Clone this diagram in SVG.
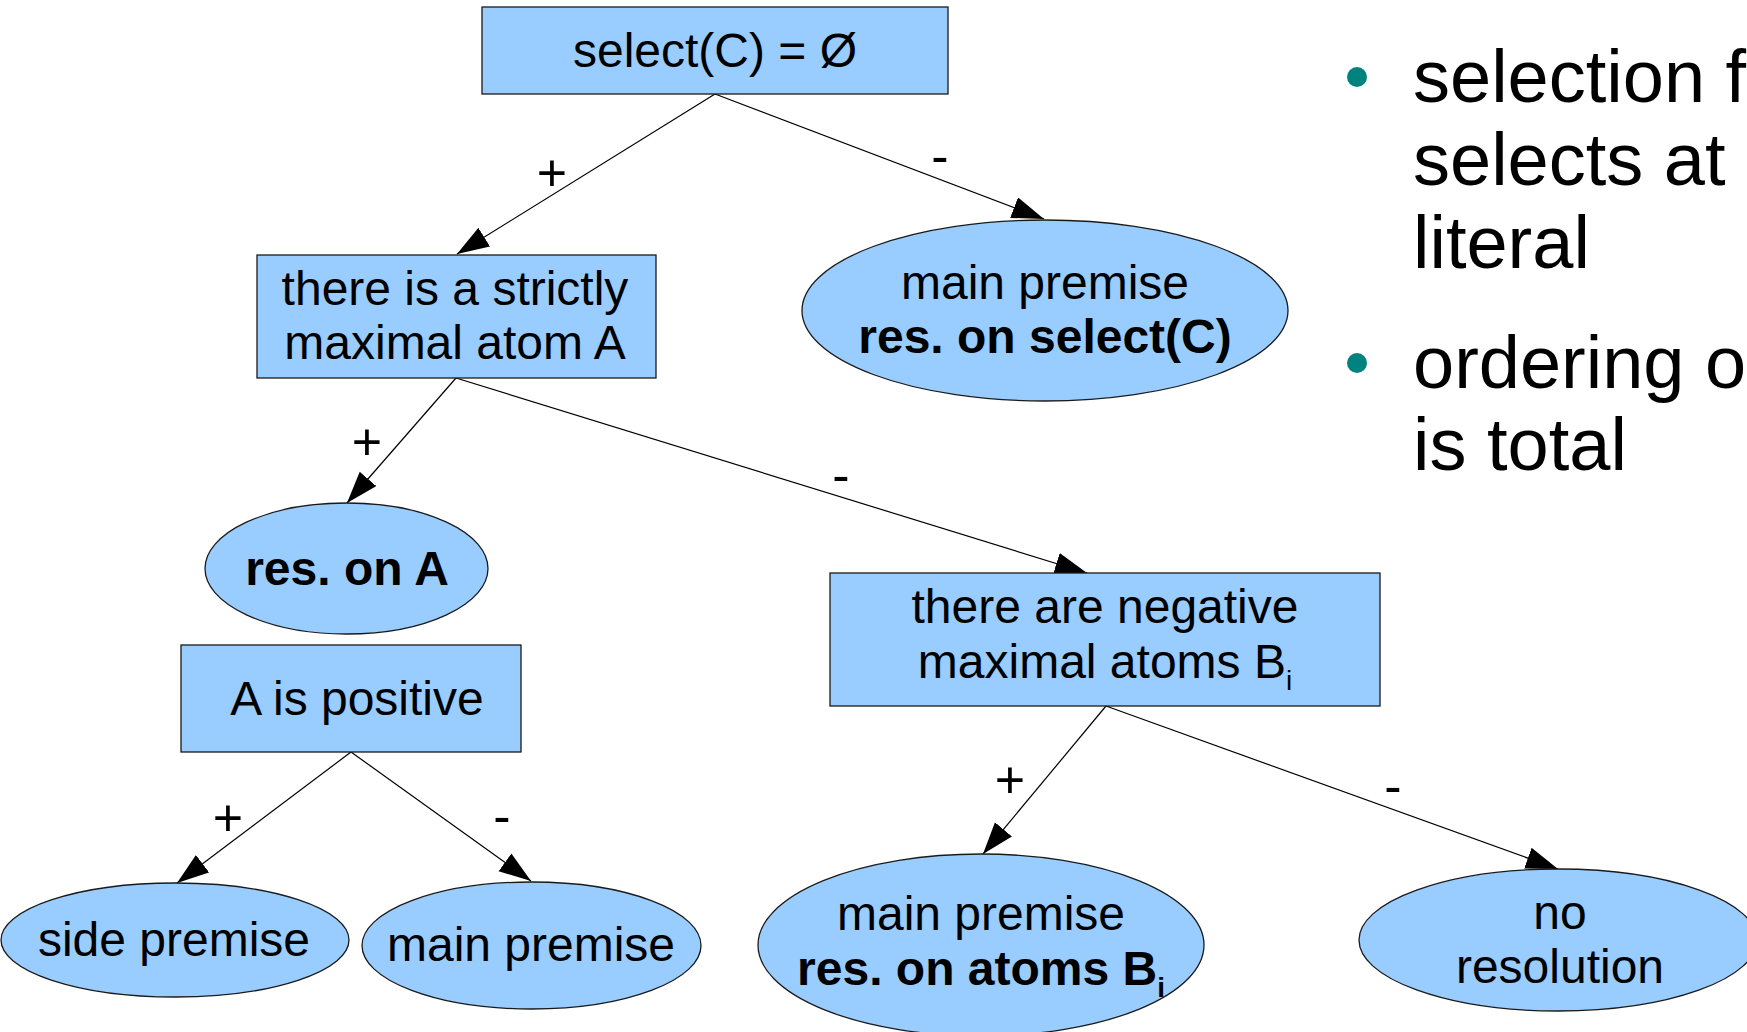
<svg xmlns="http://www.w3.org/2000/svg" width="1747" height="1032" viewBox="0 0 1747 1032">
<style>
.node{fill:#99ccff;stroke:#1a1a1a;stroke-width:1.3}
.t{font-family:"Liberation Sans",Arial,sans-serif;font-size:48px;fill:#000;text-anchor:middle}
.b{font-weight:bold}
.lbl{font-family:"Liberation Sans",Arial,sans-serif;font-size:52px;fill:#000;text-anchor:middle}
.edge{fill:none;stroke:#000;stroke-width:1.2;marker-end:url(#arr)}
.side{font-family:"Liberation Sans",Arial,sans-serif;font-size:74px;fill:#000}
.bul{fill:#00827e}
</style>
<defs>
<marker id="arr" markerUnits="userSpaceOnUse" markerWidth="34" markerHeight="24" refX="32" refY="11" orient="auto">
<path d="M0,0 L32,11 L0,22 z" fill="#000"/>
</marker>
</defs>
<rect width="1747" height="1032" fill="#fff"/>
<g id="connectors">
<line class="edge" x1="715" y1="94" x2="457" y2="254"/>
<line class="edge" x1="715" y1="94" x2="1044" y2="219"/>
<line class="edge" x1="456" y1="378" x2="347" y2="503"/>
<line class="edge" x1="456" y1="378" x2="1087" y2="573"/>
<line class="edge" x1="351" y1="752" x2="177" y2="883"/>
<line class="edge" x1="351" y1="752" x2="531" y2="881"/>
<line class="edge" x1="1106" y1="706" x2="983" y2="854"/>
<line class="edge" x1="1106" y1="706" x2="1558" y2="869"/>
<text class="lbl" x="552" y="191">+</text>
<text class="lbl" x="940" y="174">-</text>
<text class="lbl" x="367" y="460">+</text>
<text class="lbl" x="841" y="493">-</text>
<text class="lbl" x="228" y="836">+</text>
<text class="lbl" x="502" y="834">-</text>
<text class="lbl" x="1010" y="798">+</text>
<text class="lbl" x="1393" y="804">-</text>
</g>
<g id="n-select">
<rect class="node" x="482" y="7" width="466" height="87"/>
<text class="t" x="715" y="67">select(C) = Ø</text>
</g>
<g id="n-strictly">
<rect class="node" x="257" y="255" width="399" height="123"/>
<text class="t" x="455" y="305">there is a strictly</text>
<text class="t" x="455" y="359">maximal atom A</text>
</g>
<g id="n-mainselect">
<ellipse class="node" cx="1045" cy="310.5" rx="243" ry="90.5"/>
<text class="t" x="1045" y="299">main premise</text>
<text class="t b" x="1045" y="353">res. on select(C)</text>
</g>
<g id="n-resA">
<ellipse class="node" cx="346.5" cy="568.5" rx="141.5" ry="65.5"/>
<text class="t b" x="347" y="585">res. on A</text>
</g>
<g id="n-positive">
<rect class="node" x="181" y="645" width="340" height="107"/>
<text class="t" x="357" y="715">A is positive</text>
</g>
<g id="n-negative">
<rect class="node" x="830" y="573" width="550" height="133"/>
<text class="t" x="1105" y="623">there are negative</text>
<text class="t" x="1105" y="678">maximal atoms B<tspan font-size="28" dy="12">i</tspan></text>
</g>
<g id="n-side">
<ellipse class="node" cx="175" cy="940" rx="174" ry="57"/>
<text class="t" x="174" y="956">side premise</text>
</g>
<g id="n-main">
<ellipse class="node" cx="531.5" cy="945.5" rx="169.5" ry="63.5"/>
<text class="t" x="531" y="961">main premise</text>
</g>
<g id="n-mainatoms">
<ellipse class="node" cx="981" cy="945" rx="223" ry="91"/>
<text class="t" x="981" y="930">main premise</text>
<text class="t b" x="981" y="985">res. on atoms B<tspan font-size="28" dy="12">i</tspan></text>
</g>
<g id="n-nores">
<ellipse class="node" cx="1558" cy="940" rx="199" ry="71"/>
<text class="t" x="1560" y="929">no</text>
<text class="t" x="1560" y="983">resolution</text>
</g>
<g id="bullets">
<circle class="bul" cx="1357" cy="77" r="10"/>
<text class="side" x="1413" y="102">selection f</text>
<text class="side" x="1413" y="185">selects at</text>
<text class="side" x="1413" y="268">literal</text>
<circle class="bul" cx="1357" cy="363" r="10"/>
<text class="side" x="1413" y="388">ordering o</text>
<text class="side" x="1413" y="470">is total</text>
</g>
</svg>
